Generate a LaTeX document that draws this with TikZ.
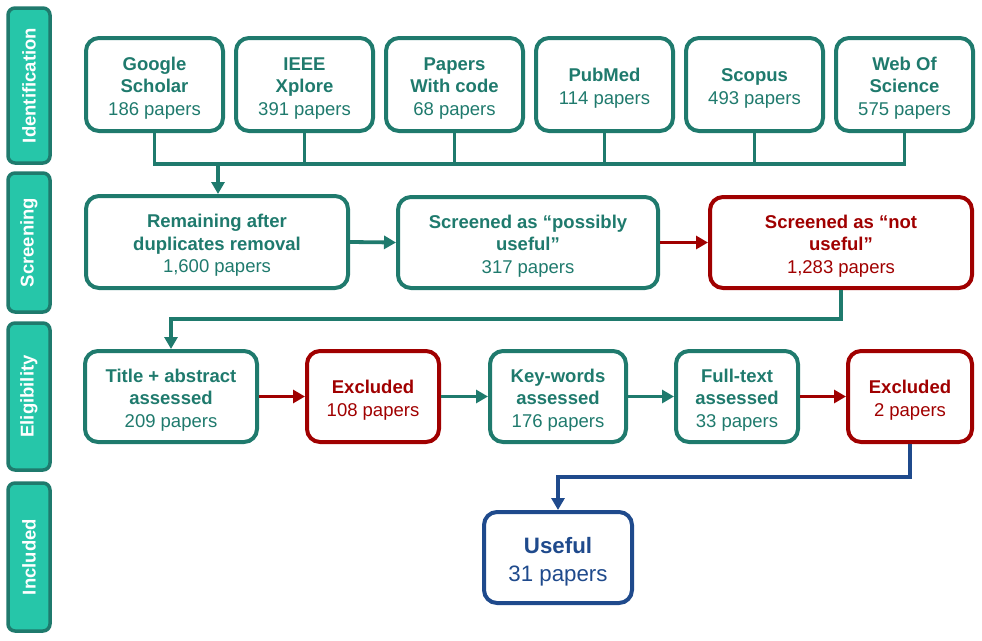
\documentclass[tikz,border=0pt]{standalone}
\usepackage{fontspec}
\setmainfont{Liberation Sans}
\usetikzlibrary{arrows.meta}
\definecolor{teal1}{HTML}{1F7A6D}
\definecolor{barfill}{HTML}{26C6A9}
\definecolor{red1}{HTML}{A00000}
\definecolor{blue1}{HTML}{1F4A8C}
\newcommand{\tp}{\rule{0pt}{20.5pt}}
\newcommand{\tpb}{\rule{0pt}{24.5pt}}
\tikzset{
  bar/.style={draw=teal1, fill=barfill, line width=3.5pt, rounded corners=7pt},
  bartext/.style={text=white, font=\fontsize{18.5}{22}\selectfont\bfseries, rotate=90},
  gbox/.style={draw=teal1, line width=4pt, rounded corners=13pt, text=teal1, align=center,
    font=\fontsize{18.5}{22.5}\selectfont, inner sep=0pt},
  rbox/.style={gbox, draw=red1, text=red1},
  bbox/.style={gbox, draw=blue1, text=blue1, font=\fontsize{22.3}{28}\selectfont},
  gline/.style={draw=teal1, line width=3.8pt},
  garrow/.style={gline, -{Triangle[length=12pt,width=13pt]}},
  rarrow/.style={draw=red1, line width=3.8pt, -{Triangle[length=12pt,width=13pt]}},
  barrow/.style={draw=blue1, line width=3.8pt, -{Triangle[length=12pt,width=13pt]}},
}
\begin{document}
\begin{tikzpicture}[x=1pt,y=-1pt]
\useasboundingbox (0,0) rectangle (982,640);
% phase bars
\draw[bar] (8,8) rectangle (50,163);
\node[bartext] (bI) at (29,85.5) {Identification};
\draw[bar] (8,173) rectangle (50,312);
\node[bartext] (bS) at (29,242.5) {Screening};
\draw[bar] (8,323) rectangle (50,470);
\node[bartext] (bE) at (29,396.5) {Eligibility};
\draw[bar] (8,483) rectangle (50,631);
\node[bartext] (bU) at (29,557) {Included};
% identification boxes
\node[gbox, minimum width=137pt, minimum height=93pt] (g1) at (154.5,84.5) {\tp\textbf{Google}\\\textbf{Scholar}\\186 papers};
\node[gbox, minimum width=137pt, minimum height=93pt] (g2) at (304.5,84.5) {\tp\textbf{IEEE}\\\textbf{Xplore}\\391 papers};
\node[gbox, minimum width=137pt, minimum height=93pt] (g3) at (454.5,84.5) {\tp\textbf{Papers}\\\textbf{With code}\\68 papers};
\node[gbox, minimum width=137pt, minimum height=93pt] (g4) at (604.5,84.5) {\tp\textbf{PubMed}\\114 papers};
\node[gbox, minimum width=137pt, minimum height=93pt] (g5) at (754.5,84.5) {\tp\textbf{Scopus}\\493 papers};
\node[gbox, minimum width=137pt, minimum height=93pt] (g6) at (904.5,84.5) {\tp\textbf{Web Of}\\\textbf{Science}\\575 papers};
\coordinate (hl) at (154.5,164);
\coordinate (hr) at (904.5,164);
\draw[gline, line join=miter] (g1.south) |- (hl) -- (hr) -| (g6.south);
\foreach \n in {g2,g3,g4,g5} \draw[gline] (\n.south) -- (\n.south |- hl);
% screening
\node[gbox, minimum width=262pt, minimum height=92pt] (s1) at (217,242) {\tp\textbf{Remaining after}\\\textbf{duplicates removal}\\1,600 papers};
\node[gbox, minimum width=260pt, minimum height=91pt] (s2) at (528,242.5) {\tp\textbf{Screened as “possibly}\\\textbf{useful”}\\317 papers};
\node[rbox, minimum width=262pt, minimum height=91pt] (s3) at (841,242.5) {\tp\textbf{Screened as “not}\\\textbf{useful”}\\1,283 papers};
\coordinate (topdrop) at (218,164);
\draw[garrow] (topdrop) -- (topdrop |- s1.north);
\draw[garrow] (s1.east) -- (s2.west);
\draw[rarrow] (s2.east) -- (s3.west);
% eligibility
\node[gbox, minimum width=172pt, minimum height=91pt] (e1) at (171,396.5) {\tp\textbf{Title + abstract}\\\textbf{assessed}\\209 papers};
\node[rbox, minimum width=132pt, minimum height=91pt] (e2) at (373,396.5) {\tp\textbf{Excluded}\\108 papers};
\node[gbox, minimum width=136pt, minimum height=91pt] (e3) at (558,396.5) {\tp\textbf{Key-words}\\\textbf{assessed}\\176 papers};
\node[gbox, minimum width=122pt, minimum height=91pt] (e4) at (737,396.5) {\tp\textbf{Full-text}\\\textbf{assessed}\\33 papers};
\node[rbox, minimum width=124pt, minimum height=91pt] (e5) at (910,396.5) {\tp\textbf{Excluded}\\2 papers};
\coordinate (c1) at (841,319);
\draw[garrow, line join=miter] (s3.south) -- (c1) -| (e1.north);
\draw[rarrow] (e1.east) -- (e2.west);
\draw[garrow] (e2.east) -- (e3.west);
\draw[garrow] (e3.east) -- (e4.west);
\draw[rarrow] (e4.east) -- (e5.west);
% included
\node[bbox, minimum width=148pt, minimum height=91pt] (u1) at (558,557.5) {\tpb\textbf{Useful}\\31 papers};
\coordinate (c2) at (910,477);
\draw[barrow, line join=miter] (e5.south) -- (c2) -| (u1.north);
\end{tikzpicture}
\end{document}
